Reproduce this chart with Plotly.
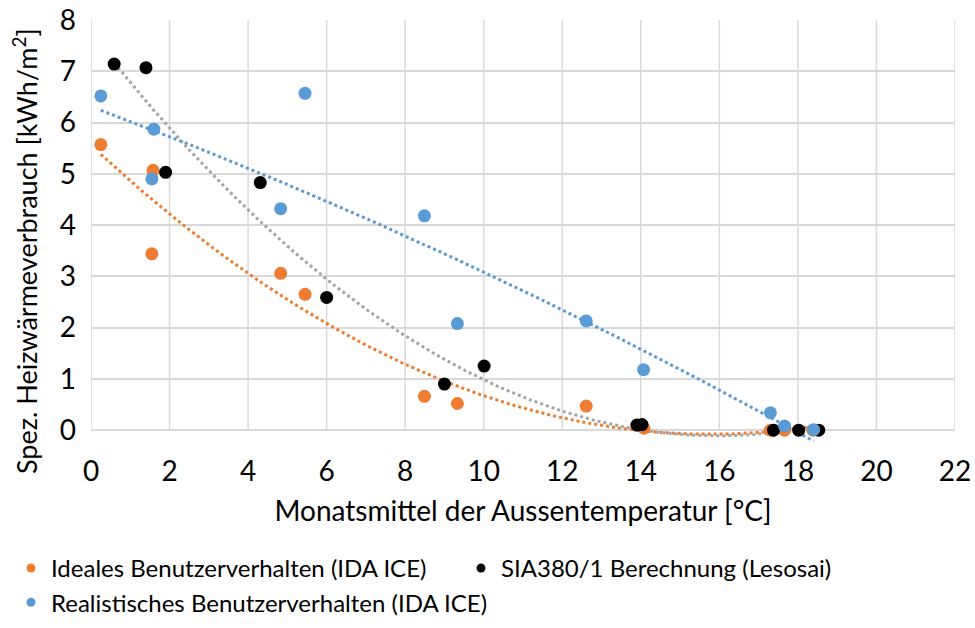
import numpy as np
import plotly.graph_objects as go

# Ideales Benutzerverhalten (IDA ICE)
ideal_x = [0.25, 1.58, 1.55, 4.83, 5.45, 8.49, 9.33, 12.61, 14.08, 17.30, 17.66, 18.38]
ideal_y = [5.57, 5.07, 3.44, 3.06, 2.65, 0.66, 0.52, 0.47, 0.04, 0.0, 0.0, 0.0]

# SIA380/1 Berechnung (Lesosai)
sia_x = [0.59, 1.40, 1.90, 4.31, 6.00, 9.00, 10.01, 13.90, 14.03, 17.38, 18.02, 18.53]
sia_y = [7.14, 7.07, 5.03, 4.83, 2.59, 0.90, 1.25, 0.10, 0.11, 0.0, 0.0, 0.0]

# Realistisches Benutzerverhalten (IDA ICE)
real_x = [0.25, 1.60, 1.55, 4.83, 5.45, 8.49, 9.33, 12.61, 14.07, 17.30, 17.66, 18.40]
real_y = [6.52, 5.87, 4.90, 4.32, 6.57, 4.18, 2.08, 2.13, 1.18, 0.34, 0.08, 0.01]

names = ["Ideales Benutzerverhalten (IDA ICE)",
         "SIA380/1 Berechnung (Lesosai)",
         "Realistisches Benutzerverhalten (IDA ICE)"]
x_ticks = list(range(0, 23, 2))
y_ticks = list(range(0, 9))
x_title = "Monatsmittel der Aussentemperatur [°C]"
y_title = "Spez. Heizwärmeverbrauch [kWh/m<sup>2</sup>]"

ORANGE = "#ED7D31"
BLUE = "#5B9BD5"
BLACK = "#000000"
GRAY = "#A5A5A5"
GRID = "#D9D9D9"

FONT = "Lato"
fig = go.Figure()

series = [
    (ideal_x, ideal_y, ORANGE, ORANGE, names[0], "legend"),
    (sia_x, sia_y, BLACK, GRAY, names[1], "legend2"),
    (real_x, real_y, BLUE, BLUE, names[2], "legend"),
]

# polynomial (order 2) trendlines, as in the original chart
for xs, ys, mc, tc, nm, lg in series:
    c = np.polyfit(xs, ys, 2)
    tx = np.linspace(min(xs), max(xs), 200)
    ty = np.polyval(c, tx)
    fig.add_trace(go.Scatter(x=tx, y=ty, mode="lines", showlegend=False,
                             hoverinfo="skip",
                             line=dict(color=tc, width=3, dash="3px,3px")))

# markers (orange, black, blue on top)
for xs, ys, mc, tc, nm, lg in series:
    fig.add_trace(go.Scatter(x=xs, y=ys, mode="markers", showlegend=False,
                             cliponaxis=False, name=nm,
                             marker=dict(color=mc, size=13, line=dict(width=0))))

# legend entries (small markers)
for xs, ys, mc, tc, nm, lg in series:
    fig.add_trace(go.Scatter(x=[None], y=[None], mode="markers", name=nm,
                             legend=lg, marker=dict(color=mc, size=9)))

# vertical gridlines, from 0 to 8 only
shapes = []
for xv in x_ticks:
    shapes.append(dict(type="line", xref="x", yref="y", x0=xv, x1=xv, y0=0, y1=8,
                       line=dict(color=GRID, width=1.5), layer="below"))

legend_common = dict(orientation="h", xref="container", yref="container",
                     y=0.1306, xanchor="left", yanchor="top",
                     font=dict(size=24, family=FONT), itemsizing="trace",
                     tracegroupgap=0, bgcolor="rgba(0,0,0,0)")

fig.update_layout(
    width=975, height=628,
    margin=dict(l=91, r=20, t=20, b=185),
    paper_bgcolor="white", plot_bgcolor="white",
    font=dict(family=FONT, color="#000000"),
    showlegend=True,
    shapes=shapes,
    annotations=[dict(text=y_title, xref="paper", yref="paper",
                      x=-0.0764, y=0.4539, xanchor="center", yanchor="middle",
                      textangle=-90, showarrow=False,
                      font=dict(size=27, family=FONT))],
    legend=dict(x=11 / 975, entrywidth=450, entrywidthmode="pixels", **legend_common),
    legend2=dict(x=461 / 975, **legend_common),
)
fig.update_xaxes(range=[0, 22], tickvals=x_ticks, ticktext=[str(v) for v in x_ticks],
                 showgrid=False, showline=False, zeroline=False, ticks="",
                 ticklabelstandoff=9, automargin=False,
                 tickfont=dict(size=28, family=FONT),
                 title=dict(text=x_title, font=dict(size=28, family=FONT), standoff=15))
fig.update_yaxes(range=[-0.25, 8], tickvals=y_ticks, ticktext=[str(v) for v in y_ticks],
                 showgrid=True, gridcolor=GRID, gridwidth=1.5,
                 showline=False, zeroline=False, ticks="",
                 ticklabelstandoff=14, automargin=False,
                 tickfont=dict(size=28, family=FONT))

fig.write_html("out.html", config={"displayModeBar": False},
               post_script="document.body.style.margin='0';document.body.style.overflow='hidden';")
